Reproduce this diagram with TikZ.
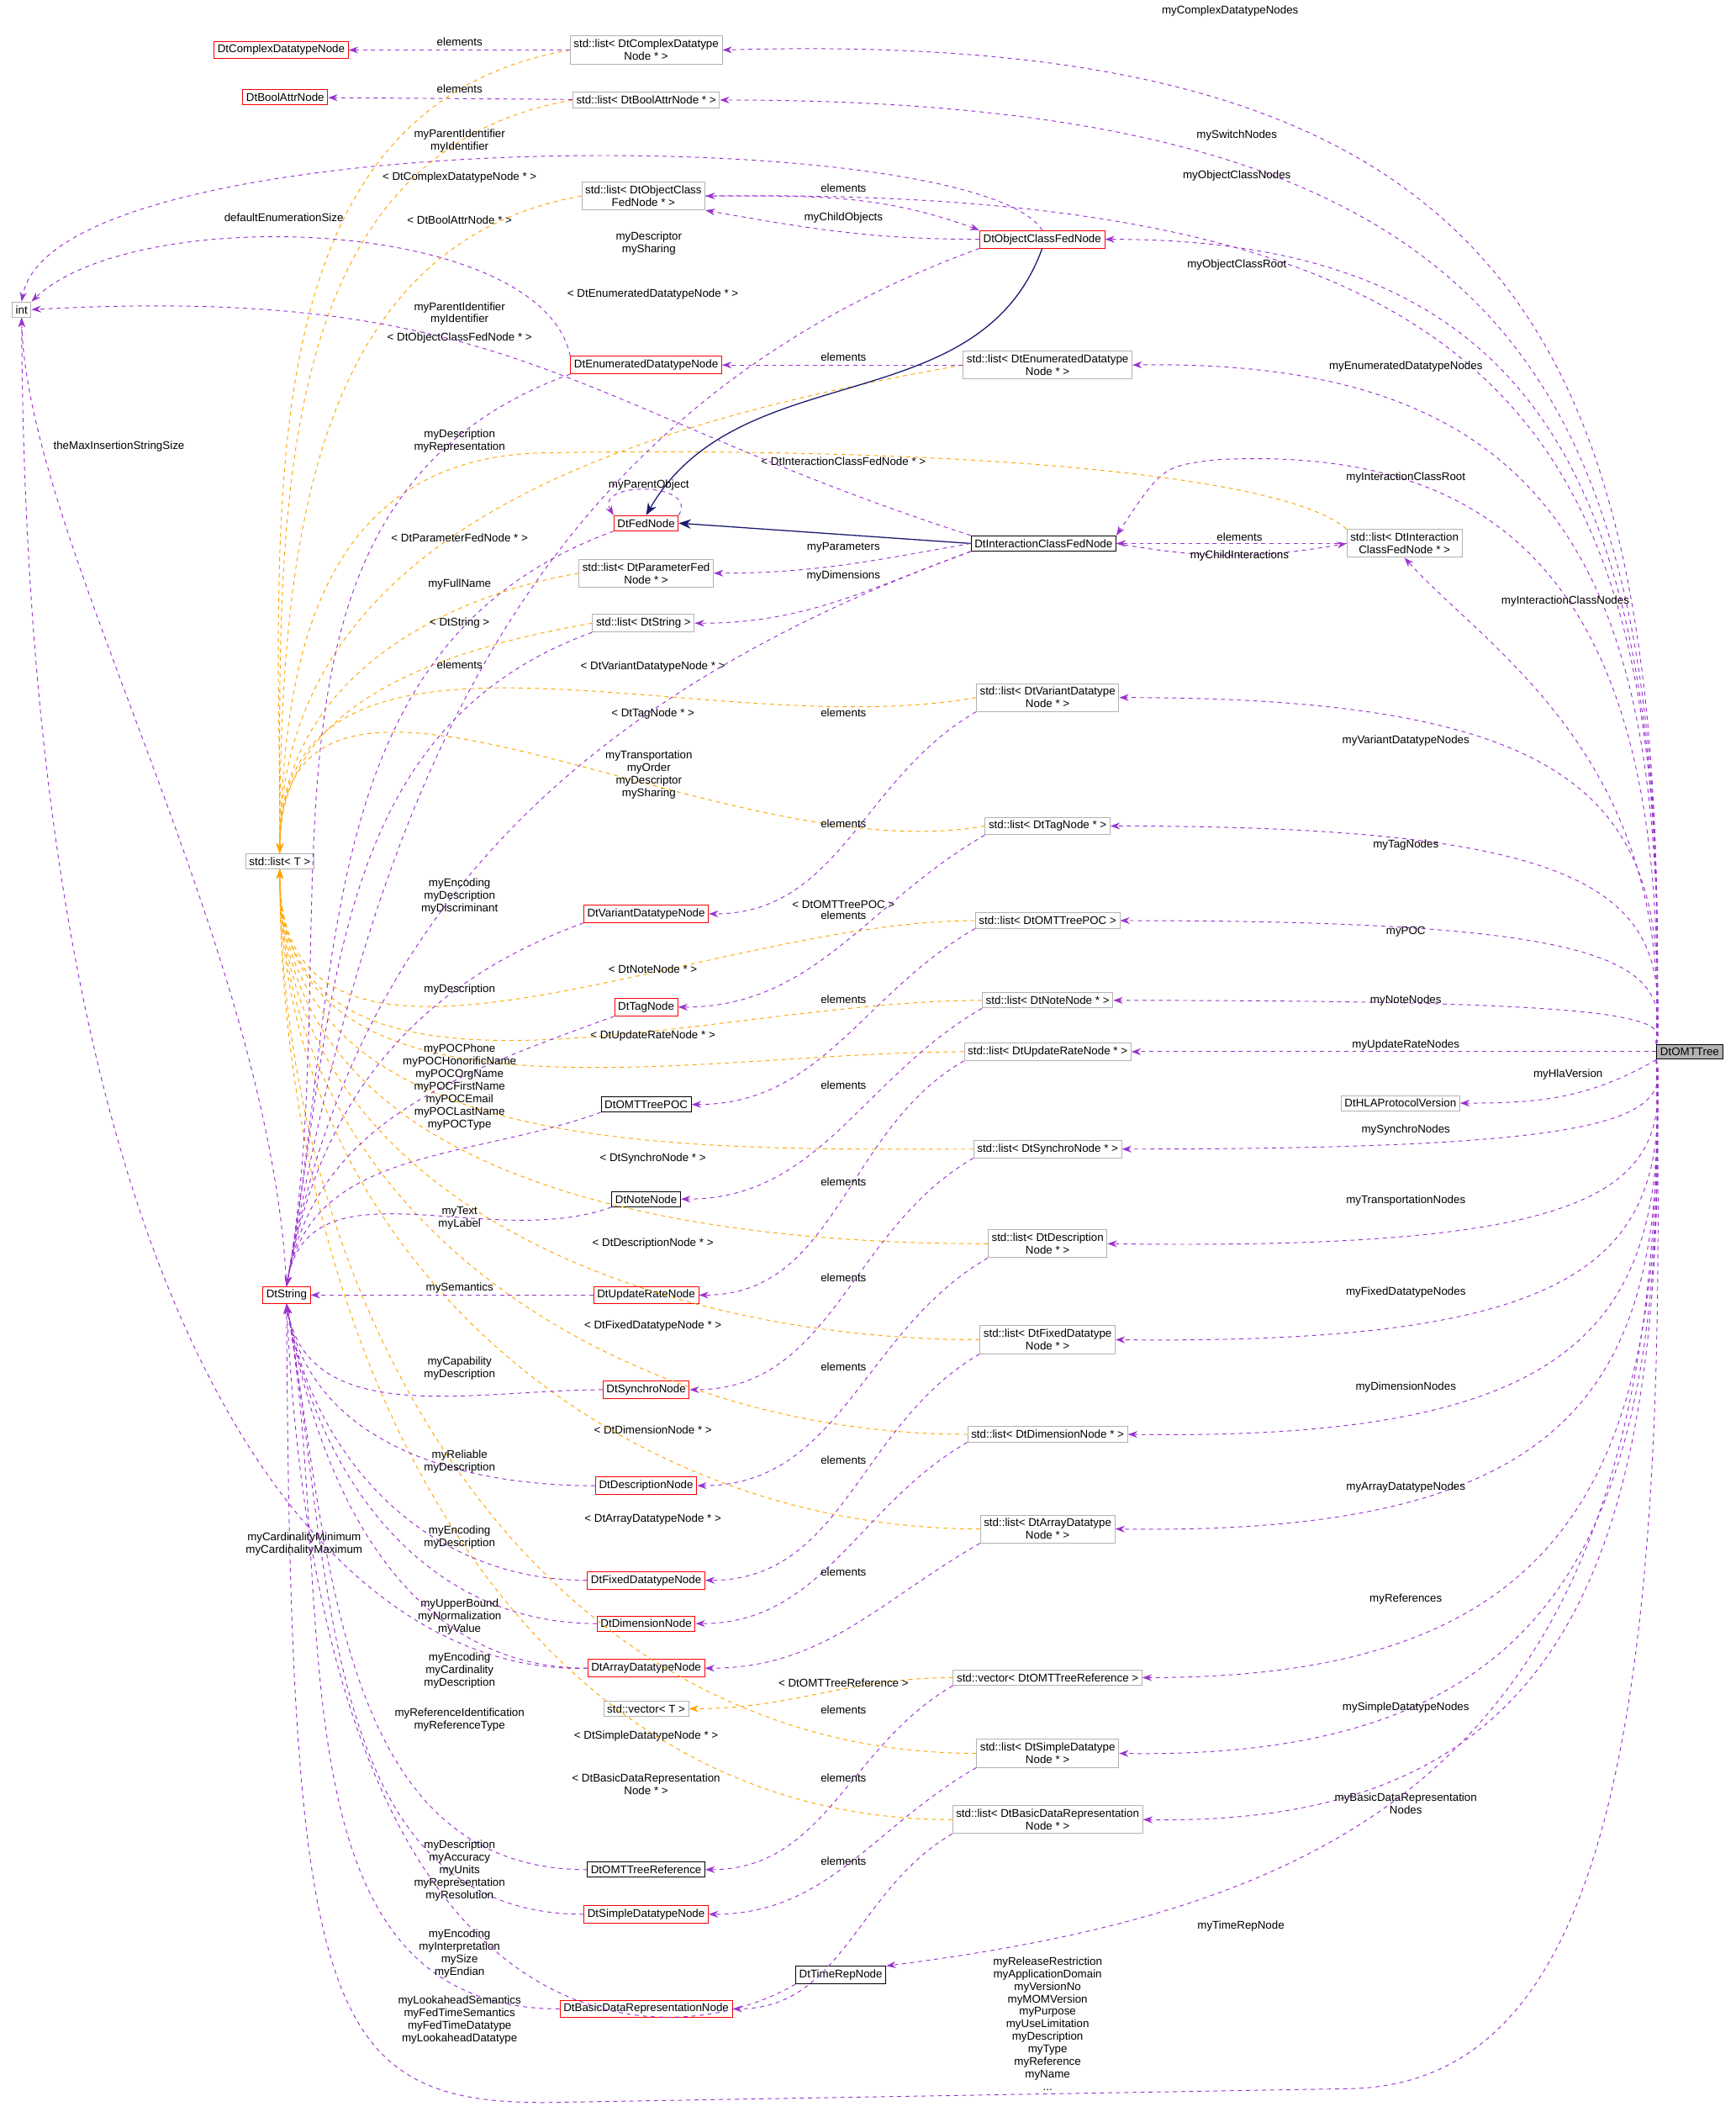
\documentclass[tikz,border=0pt]{standalone}
\usepackage{fontspec}
\setmainfont{Liberation Sans}
\usetikzlibrary{arrows.meta}
\definecolor{pur}{HTML}{9A32CD}
\definecolor{org}{HTML}{FFA500}
\definecolor{nav}{HTML}{191970}
\newcommand\fs{\fontsize{8.3}{9.3}\selectfont}
\begin{document}
\begin{tikzpicture}[x=1pt,y=-1pt,
 box/.style={draw=gray!60,fill=white,font=\fs,inner sep=2.6pt,align=center,line width=0.6pt},
 rbox/.style={box,draw=red},
 kbox/.style={box,draw=black},
 lbl/.style={font=\fs,align=center,inner sep=0.5pt},
 pe/.style={draw=pur,dashed,line width=0.6pt,-{Stealth[length=7pt,width=5pt]}},
 oe/.style={draw=org,dashed,line width=0.6pt,-{Stealth[length=7pt,width=5pt]}},
 ih/.style={draw=nav,line width=0.8pt,-{Stealth[length=9pt,width=7pt]}}]
\useasboundingbox (0,0) rectangle (1284,1566);
% nodes
\node[kbox,fill=gray!60] (omt) at (1250,778) {DtOMTTree};
\node[rbox] (cdn) at (208,37) {DtComplexDatatypeNode};
\node[box] (lcd) at (478,37) {std::list< DtComplexDatatype\\Node * >};
\node[rbox] (ban) at (211,72) {DtBoolAttrNode};
\node[box] (lba) at (478,74) {std::list< DtBoolAttrNode * >};
\node[box] (loc) at (476,145) {std::list< DtObjectClass\\FedNode * >};
\node[rbox] (ocf) at (771,177) {DtObjectClassFedNode};
\node[box] (int) at (16,229) {int};
\node[rbox] (edn) at (478,270) {DtEnumeratedDatatypeNode};
\node[box] (led) at (775,270) {std::list< DtEnumeratedDatatype\\Node * >};
\node[rbox] (fed) at (478,387) {DtFedNode};
\node[kbox] (icf) at (772,402) {DtInteractionClassFedNode};
\node[box] (lic) at (1039,402) {std::list< DtInteraction\\ClassFedNode * >};
\node[box] (lpf) at (478,424) {std::list< DtParameterFed\\Node * >};
\node[box] (lds) at (476,461) {std::list< DtString >};
\node[box] (lvd) at (775,516) {std::list< DtVariantDatatype\\Node * >};
\node[box] (ltg) at (775,611) {std::list< DtTagNode * >};
\node[box] (lT) at (207,637) {std::list< T >};
\node[box] (lpc) at (775,681) {std::list< DtOMTTreePOC >};
\node[rbox] (vdn) at (478,676) {DtVariantDatatypeNode};
\node[rbox] (tgn) at (478,745) {DtTagNode};
\node[box] (lnn) at (775,740) {std::list< DtNoteNode * >};
\node[box] (lur) at (775,778) {std::list< DtUpdateRateNode * >};
\node[box] (hla) at (1036,816) {DtHLAProtocolVersion};
\node[kbox] (poc) at (478,817) {DtOMTTreePOC};
\node[box] (lsy) at (775,850) {std::list< DtSynchroNode * >};
\node[kbox] (nn) at (478,887) {DtNoteNode};
\node[box] (lde) at (775,920) {std::list< DtDescription\\Node * >};
\node[rbox] (str) at (212,958) {DtString};
\node[rbox] (urn) at (478,958) {DtUpdateRateNode};
\node[box] (lfd) at (775,991) {std::list< DtFixedDatatype\\Node * >};
\node[rbox] (syn) at (478,1028) {DtSynchroNode};
\node[box] (ldm) at (775,1061) {std::list< DtDimensionNode * >};
\node[rbox] (den) at (478,1099) {DtDescriptionNode};
\node[box] (lad) at (775,1131) {std::list< DtArrayDatatype\\Node * >};
\node[rbox] (fdn) at (478,1169) {DtFixedDatatypeNode};
\node[rbox] (dmn) at (478,1201) {DtDimensionNode};
\node[rbox] (adn) at (478,1234) {DtArrayDatatypeNode};
\node[box] (vrf) at (775,1241) {std::vector< DtOMTTreeReference >};
\node[box] (vT) at (478,1264) {std::vector< T >};
\node[box] (lsd) at (775,1297) {std::list< DtSimpleDatatype\\Node * >};
\node[box] (lbd) at (775,1346) {std::list< DtBasicDataRepresentation\\Node * >};
\node[kbox] (ref) at (478,1383) {DtOMTTreeReference};
\node[rbox] (sdn) at (478,1416) {DtSimpleDatatypeNode};
\node[rbox] (bdn) at (478,1486) {DtBasicDataRepresentationNode};
\node[kbox] (trn) at (622,1461) {DtTimeRepNode};
% OMTTree edges (up)
\foreach \t/\l/\x/\y/\ty in {lcd/myComplexDatatypeNodes/910/8/20, lba/mySwitchNodes/915/100/74, loc/myObjectClassNodes/915/130/138,
  ocf/myObjectClassRoot/915/196/177, led/myEnumeratedDatatypeNodes/1040/271/265, lvd/myVariantDatatypeNodes/1040/548/516,
  ltg/myTagNodes/1040/625/611, lpc/myPOC/1040/689/681, lnn/myNoteNodes/1040/740/740}
  {\draw[pe] (omt.north west) .. controls ({1236},{\ty+0.3*(778-\ty)}) and ({1200-0.1*(778-\ty)},{\ty}) .. (\t.east);
   \node[lbl] (L\t) at (\x,\y) {\l};}
\draw[pe] (omt.north west) .. controls (1236,420) and (1100,330) .. (900,340) .. controls (860,345) .. (icf.north east);
\node[lbl] (Licf) at (1040,353) {myInteractionClassRoot};
\draw[pe] (omt.north west) .. controls (1236,560) and (1100,480) .. (lic.south);
\node[lbl] (Llic) at (1158,445) {myInteractionClassNodes};
\draw[pe] (omt.west) -- (lur.east);
\node[lbl] (Llur) at (1040,773) {myUpdateRateNodes};
\draw[pe] (omt.south west) to[out=-150,in=0] (hla.east);
\node[lbl] (Lhla) at (1160,795) {myHlaVersion};
\foreach \t/\l/\x/\y/\ty in {lsy/mySynchroNodes/1040/836/850, lde/myTransportationNodes/1040/888/925, lfd/myFixedDatatypeNodes/1040/956/995,
  ldm/myDimensionNodes/1040/1026/1066, lad/myArrayDatatypeNodes/1040/1100/1136, vrf/myReferences/1040/1183/1241,
  lsd/mySimpleDatatypeNodes/1040/1263/1302, lbd/{myBasicDataRepresentation\\Nodes}/1040/1334/1351}
  {\draw[pe] (omt.south west) .. controls ({1236},{\ty-0.3*(\ty-778)}) and ({1200-0.1*(\ty-778)},{\ty}) .. (\t.east);
   \node[lbl] (L\t) at (\x,\y) {\l};}
\draw[pe] (omt.south west) .. controls (1236,1300) and (1000,1410) .. (trn.north east);
\node[lbl] (Ltrn) at (918,1425) {myTimeRepNode};
\draw[pe] (omt.south west) .. controls (1236,1300) and (1180,1540) .. (1000,1545) -- (420,1555) .. controls (240,1560) and (215,1500) .. (str.south);
\node[lbl] (Lstr) at (775,1497) {myReleaseRestriction\\myApplicationDomain\\myVersionNo\\myMOMVersion\\myPurpose\\myUseLimitation\\myDescription\\myType\\myReference\\myName\\...};
% template edges
\foreach \s/\l/\x/\y in {lcd/{< DtComplexDatatypeNode * >}/340/131, lba/{< DtBoolAttrNode * >}/340/163,
  loc/{< DtObjectClassFedNode * >}/340/250, led/{< DtEnumeratedDatatypeNode * >}/483/218,
  lpf/{< DtParameterFedNode * >}/340/398,
  lds/{< DtString >}/340/461, lvd/{< DtVariantDatatypeNode * >}/483/493, ltg/{< DtTagNode * >}/483/528}
  {\draw[oe] (\s.west) to[out=190,in=90] (lT.north);
   \node[lbl] (T\s) at (\x,\y) {\l};}
\draw[oe] (lic.north west) .. controls (950,350) and (700,330) .. (400,335) .. controls (230,340) and (210,500) .. (lT.north);
\node[lbl] (Tlic) at (624,341) {< DtInteractionClassFedNode * >};
\foreach \s/\l/\x/\y in {lpc/{< DtOMTTreePOC >}/624/669, lnn/{< DtNoteNode * >}/483/717,
  lur/{< DtUpdateRateNode * >}/483/766, lsy/{< DtSynchroNode * >}/483/857, lde/{< DtDescriptionNode * >}/483/920,
  lfd/{< DtFixedDatatypeNode * >}/483/981, ldm/{< DtDimensionNode * >}/483/1058, lad/{< DtArrayDatatypeNode * >}/483/1124,
  lsd/{< DtSimpleDatatypeNode * >}/478/1284, lbd/{< DtBasicDataRepresentation\\Node * >}/478/1320}
  {\draw[oe] (\s.west) to[out=180,in=-90] (lT.south);
   \node[lbl] (T\s) at (\x,\y) {\l};}
\draw[oe] (vrf.west) to[out=180,in=0] (vT.east);
\node[lbl] (Tvrf) at (624,1245) {< DtOMTTreeReference >};
% elements
\draw[pe] (lcd) -- (cdn); \node[lbl] (Ecd) at (340,31) {elements};
\draw[pe] (lba) -- (ban); \node[lbl] (Eba) at (340,66) {elements};
\draw[pe] (led) -- (edn); \node[lbl] (Eed) at (624,264) {elements};
\draw[pe] (lic.west) -- (icf.east); \node[lbl] (Eic) at (917,397) {elements};
\draw[pe] (loc.east) to[out=0,in=160] (ocf.north west); \node[lbl] (Eoc) at (624,139) {elements};
\draw[pe] (ocf.west) to[out=180,in=-10] (loc.south east); \node[lbl] (Moc) at (624,161) {myChildObjects};
\foreach \s/\t/\y in {lvd/vdn/527, ltg/tgn/609, lpc/poc/677, lnn/nn/739, lur/urn/803, lsy/syn/874, lde/den/945,
  lfd/fdn/1011, ldm/dmn/1080, lad/adn/1163, vrf/ref/1265, lsd/sdn/1315, lbd/bdn/1377}
  {\draw[pe] (\s.south west) to[out=-150,in=0] (\t.east); \node[lbl] (E\s) at (624,\y) {elements};}
% inheritance
\draw[ih] (ocf.south) to[out=-110,in=60] (fed.north);
\draw[ih] (icf.west) -- (fed.east);
\draw[pe] (fed.north east) .. controls +(15,-25) and +(-15,-25) .. (fed.north west);
\node[lbl] (Lself) at (480,359) {myParentObject};
% class edges
\draw[pe] (icf.east) to[out=-10,in=190] (lic.west); \node[lbl] (Lci) at (917,411) {myChildInteractions};
\draw[pe] (icf.west) to[out=190,in=0] (lpf.east); \node[lbl] (Lpf) at (624,405) {myParameters};
\draw[pe] (icf.south west) to[out=-160,in=0] (lds.east); \node[lbl] (Lds) at (624,426) {myDimensions};
\draw[pe] (ocf.north) .. controls (720,90) and (40,90) .. (int.north); \node[lbl] (Loi) at (340,104) {myParentIdentifier\\myIdentifier};
\draw[pe] (icf.north west) .. controls (420,300) and (380,210) .. (int.east); \node[lbl] (Lii) at (340,232) {myParentIdentifier\\myIdentifier};
\draw[pe] (edn.north west) .. controls (400,160) and (100,150) .. (int.north east); \node[lbl] (Lei) at (210,161) {defaultEnumerationSize};
\draw[pe] (str.north) .. controls (200,700) and (20,400) .. (int.south); \node[lbl] (Lsi) at (88,330) {theMaxInsertionStringSize};
\draw[pe] (adn.west) .. controls (250,1240) and (20,1000) .. (int.south); \node[lbl] (Lai) at (225,1142) {myCardinalityMinimum\\myCardinalityMaximum};
% to DtString from above
\foreach \s/\l/\x/\y in {ocf/{myDescriptor\\mySharing}/480/180, edn/{myDescription\\myRepresentation}/340/326,
  fed/{myFullName}/340/432, lds/{elements}/340/492, icf/{myTransportation\\myOrder\\myDescriptor\\mySharing}/480/573,
  vdn/{myEncoding\\myDescription\\myDiscriminant}/340/663, tgn/{myDescription}/340/732,
  poc/{myPOCPhone\\myPOCHonorificName\\myPOCOrgName\\myPOCFirstName\\myPOCEmail\\myPOCLastName\\myPOCType}/340/804,
  nn/{myText\\myLabel}/340/901}
  {\draw[pe] (\s.south west) to[out=200,in=80] (str.north); \node[lbl] (S\s) at (\x,\y) {\l};}
\draw[pe] (urn.west) -- (str.east); \node[lbl] (Surn) at (340,953) {mySemantics};
\foreach \s/\l/\x/\y in {syn/{myCapability\\myDescription}/340/1012, den/{myReliable\\myDescription}/340/1081,
  fdn/{myEncoding\\myDescription}/340/1137, dmn/{myUpperBound\\myNormalization\\myValue}/340/1196,
  adn/{myEncoding\\myCardinality\\myDescription}/340/1236, ref/{myReferenceIdentification\\myReferenceType}/340/1272,
  sdn/{myDescription\\myAccuracy\\myUnits\\myRepresentation\\myResolution}/340/1384,
  bdn/{myEncoding\\myInterpretation\\mySize\\myEndian}/340/1445}
  {\draw[pe] (\s.west) to[out=180,in=-80] (str.south); \node[lbl] (S\s) at (\x,\y) {\l};}
\draw[pe] (trn.south west) .. controls (500,1520) and (240,1540) .. (str.south);
\node[lbl] (Strn) at (340,1494) {myLookaheadSemantics\\myFedTimeSemantics\\myFedTimeDatatype\\myLookaheadDatatype};
\end{tikzpicture}
\end{document}
